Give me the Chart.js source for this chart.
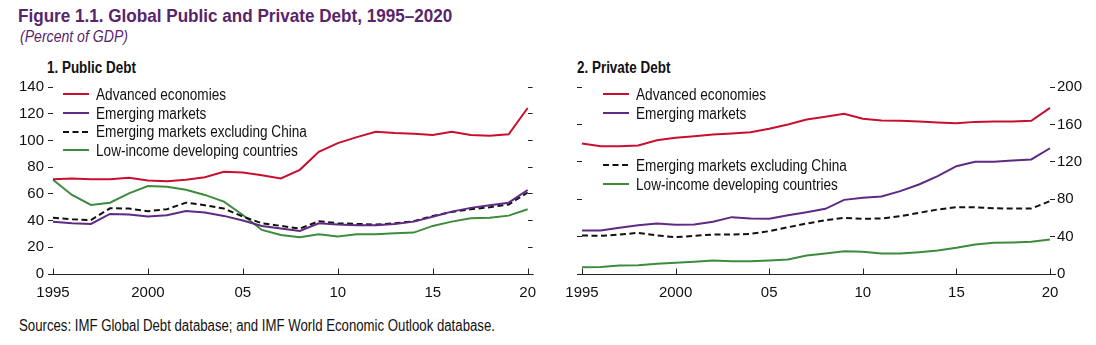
<!DOCTYPE html>
<html>
<head>
<meta charset="utf-8">
<script src="https://cdn.jsdelivr.net/npm/chart.js@4.4.1/dist/chart.umd.min.js"></script>
<style>
  html, body { margin: 0; padding: 0; background: #fff; }
  body { width: 1096px; height: 345px; position: relative; overflow: hidden;
         font-family: "Liberation Sans", Arial, sans-serif; color: #111; }
  .abs { position: absolute; white-space: nowrap; transform-origin: 0 50%; }
  #title { left: 18px; top: 5px; font-size: 19px; font-weight: bold; color: #58256c; transform: scaleX(0.9); }
  #subtitle { left: 20px; top: 28px; font-size: 16px; font-style: italic; color: #58256c; transform: scaleX(0.88); }
  .ptitle { font-size: 16px; font-weight: bold; transform: scaleX(0.84); }
  #source { left: 19px; top: 317px; font-size: 16px; transform: scaleX(0.825); }
  .leg { position: absolute; height: 19px; font-size: 16px; line-height: 19px; white-space: nowrap; }
  .leg svg { position: absolute; left: 0; top: 8px; }
  .leg span { position: absolute; left: 33px; top: 0; transform: scaleX(0.85); transform-origin: 0 50%; }
  canvas { position: absolute; }
</style>
</head>
<body>
<div id="title" class="abs">Figure 1.1. Global Public and Private Debt, 1995–2020</div>
<div id="subtitle" class="abs">(Percent of GDP)</div>
<div class="abs ptitle" style="left:47px; top:59px;">1. Public Debt</div>
<div class="abs ptitle" style="left:577px; top:59px;">2. Private Debt</div>
<div id="source" class="abs">Sources: IMF Global Debt database; and IMF World Economic Outlook database.</div>

<canvas id="pub" width="546" height="235" style="left:0; top:70px;"></canvas>
<canvas id="priv" width="548" height="235" style="left:548px; top:70px;"></canvas>
<div id="legends"></div>

<script>
// years 1995..2020
const years = [1995, 1996, 1997, 1998, 1999, 2000, 2001, 2002, 2003, 2004, 2005, 2006, 2007,
  2008, 2009, 2010, 2011, 2012, 2013, 2014, 2015, 2016, 2017, 2018, 2019, 2020];

const seriesNames = ['Advanced economies', 'Emerging markets',
  'Emerging markets excluding China', 'Low-income developing countries'];

// panel 1: public debt
const pubAdvanced = [71, 71.5, 71, 71, 72, 70, 69.5, 70.5, 72.5, 76.5, 76, 74, 71.5,
  78, 91.5, 98, 102.5, 106.5, 105.5, 105, 104, 106.5, 104, 103.5, 104.6, 124.3];
const pubEmerging = [39.2, 38, 37.5, 45, 44.5, 43, 44, 47.2, 46, 43.5, 40, 36, 34,
  32.2, 38, 37, 36.5, 36.5, 37.5, 39.2, 42.9, 46.7, 49.5, 51.5, 53.4, 62.9];
const pubEmergingExChina = [42.2, 41, 40.4, 49.2, 49, 47, 48.5, 53.4, 51.5, 49, 43, 38, 36,
  34, 39.5, 38, 37.5, 37, 38, 39.5, 43.5, 46.5, 48.5, 50, 52, 61];
const pubLowIncome = [70.5, 59.2, 51.7, 53.4, 60.4, 65.9, 65.4, 63, 59.2, 54.2, 44.2, 33, 29.2,
  27.5, 29.7, 28, 29.7, 29.7, 30.5, 31, 36, 39.2, 41.7, 42.2, 43.7, 48.5];

// panel 2: private debt
const privAdvanced = [139.6, 136.7, 136.7, 137.4, 143, 145.6, 147.4, 149.2, 150.3, 151.7, 155.3, 159.9, 165.2,
  168.1, 171.3, 166, 164.2, 163.8, 163.1, 162, 161.3, 162.7, 163.1, 163.1, 163.8, 177.7];
const privEmerging = [46.5, 46.5, 49.4, 52.2, 54, 52.6, 52.9, 55.8, 60.8, 59.4, 59, 62.9, 66.1,
  69.7, 79.3, 81.5, 82.9, 88.6, 95.7, 104.6, 115.3, 120, 120, 121.4, 122.5, 134.5];
const privEmergingExChina = [41.2, 40.8, 42.2, 44, 41.2, 39.4, 40.8, 42.2, 42.2, 42.9, 45.8, 50, 54,
  57.5, 60.1, 59, 59.4, 61.8, 65.4, 69, 71.4, 71.4, 70.3, 70, 70, 77.9];
const privLowIncome = [7.3, 7.6, 9.1, 9.4, 10.9, 12, 13, 14.4, 13.7, 13.7, 14.4, 15.5, 19.8,
  21.9, 24.4, 23.7, 21.9, 21.9, 23.3, 25.1, 28, 31.6, 33.4, 33.7, 34.4, 36.9];

const pubTicks = { min: 0, max: 140, step: 20 };
const privTicks = { min: 0, max: 200, step: 40 };

const colors = ['#c8102e', '#5e2a84', '#111111', '#3d8b3d'];
const FONT = '"Liberation Sans", Arial, sans-serif';

function makeDatasets(series) {
  return series.map((data, i) => ({
    label: seriesNames[i],
    data: data,
    borderColor: colors[i],
    backgroundColor: colors[i],
    borderWidth: 2,
    borderDash: i === 2 ? [6, 3.5] : [],
    pointRadius: 0,
    tension: 0,
    fill: false
  }));
}

// axis line along the bottom and short inward tick marks every five years
const xAxisMarks = {
  id: 'xAxisMarks',
  afterDraw(chart) {
    const { ctx, chartArea, scales } = chart;
    const y0 = Math.round(chartArea.bottom) + 0.5;
    ctx.save();
    ctx.strokeStyle = '#222';
    ctx.lineWidth = 1;
    ctx.beginPath();
    ctx.moveTo(chartArea.left - 3, y0);
    ctx.lineTo(chartArea.right + 6, y0);
    years.forEach((yr, i) => {
      if (yr % 5 !== 0) return;
      const px = Math.round(scales.x.getPixelForValue(i)) + 0.5;
      ctx.moveTo(px, y0);
      ctx.lineTo(px, y0 - 6);
    });
    ctx.stroke();
    ctx.restore();
  }
};

function yAxis(pos, t, showLabels, width) {
  return {
    type: 'linear',
    position: pos,
    min: t.min, max: t.max,
    border: { display: false },
    grid: { drawOnChartArea: false, drawTicks: true, tickLength: 5, color: '#222', lineWidth: 1 },
    ticks: {
      display: showLabels,
      stepSize: t.step,
      padding: pos === 'left' ? 4 : 2,
      color: '#111',
      font: { family: FONT, size: 15 }
    },
    afterFit(scale) { scale.width = width; }
  };
}

function makeChart(id, series, t, dims) {
  const ctx = document.getElementById(id);
  const scales = {
    x: {
      type: 'category',
      labels: years.map(String),
      offset: false,
      border: { display: false },
      grid: { display: false, drawTicks: false },
      ticks: {
        autoSkip: false, maxRotation: 0, padding: 10, color: '#111',
        font: { family: FONT, size: 15 },
        callback(val, idx) {
          const yr = years[idx];
          if (yr % 5 !== 0) return null;
          return (yr === 1995 || yr === 2000) ? String(yr) : String(yr).slice(2);
        }
      },
      afterFit(scale) { scale.height = dims.bottom; }
    },
    yL: yAxis('left', t, dims.labelSide === 'left', dims.left),
    yR: yAxis('right', t, dims.labelSide === 'right', dims.right)
  };
  const datasets = makeDatasets(series).map(d => Object.assign(d, { yAxisID: dims.labelSide === 'left' ? 'yL' : 'yR' }));
  return new Chart(ctx, {
    type: 'line',
    data: { labels: years.map(String), datasets },
    options: {
      responsive: false,
      animation: false,
      layout: { autoPadding: false, padding: { top: dims.top, left: 0, right: 0, bottom: 0 } },
      plugins: { legend: { display: false }, tooltip: { enabled: false } },
      scales
    },
    plugins: [xAxisMarks]
  });
}

makeChart('pub', [pubAdvanced, pubEmerging, pubEmergingExChina, pubLowIncome], pubTicks,
  { top: 17, bottom: 31, left: 53, right: 18, labelSide: 'left' });
makeChart('priv', [privAdvanced, privEmerging, privEmergingExChina, privLowIncome], privTicks,
  { top: 17, bottom: 31, left: 34, right: 46, labelSide: 'right' });

// legends (left panel: four rows; right panel: two rows, a gap, two rows)
const legendRows = [
  { x: 63, ys: [94, 113, 131.5, 150] },
  { x: 603, ys: [94, 113, 165, 184] }
];
const legHost = document.getElementById('legends');
legendRows.forEach(panel => {
  seriesNames.forEach((name, i) => {
    const el = document.createElement('div');
    el.className = 'leg';
    el.style.left = panel.x + 'px';
    el.style.top = (panel.ys[i] - 9.5) + 'px';
    const dash = i === 2 ? 'stroke-dasharray="6 3.5"' : '';
    el.innerHTML = '<svg width="26" height="4" style="top:7.5px"><line x1="0" y1="2" x2="26" y2="2" stroke="' + colors[i] +
      '" stroke-width="2" ' + dash + '/></svg><span>' + name + '</span>';
    legHost.appendChild(el);
  });
});
</script>
</body>
</html>
